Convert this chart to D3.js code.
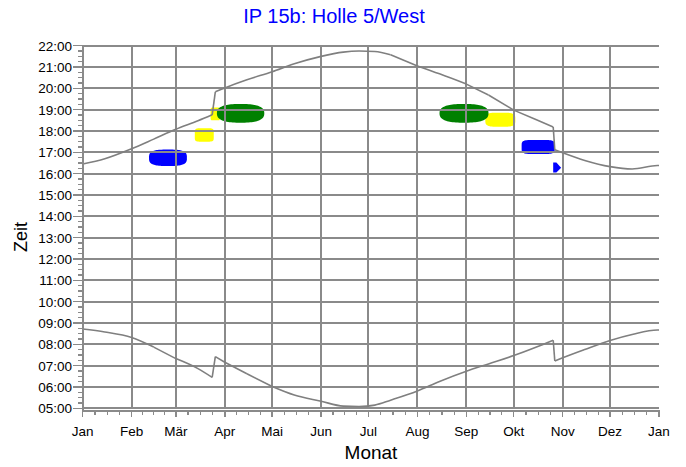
<!DOCTYPE html>
<html><head><meta charset="utf-8">
<script src="https://cdn.jsdelivr.net/npm/d3@7"></script>
<style>
body{margin:0;background:#fff}
svg{display:block}
text{font-family:"Liberation Sans",Arial,Helvetica,sans-serif}
</style>
</head><body>
<svg id="chart" width="686" height="467"></svg>
<script>
// ---------- data ----------
const chartTitle = "IP 15b: Holle 5/West";
const xTitle = "Monat";
const yTitle = "Zeit";
const monthLabels = ["Jan","Feb","Mär","Apr","Mai","Jun","Jul","Aug","Sep","Okt","Nov","Dez","Jan"];
const hourLabels = ["05:00","06:00","07:00","08:00","09:00","10:00","11:00","12:00","13:00","14:00",
                    "15:00","16:00","17:00","18:00","19:00","20:00","21:00","22:00"];
const hourValues = [5,6,7,8,9,10,11,12,13,14,15,16,17,18,19,20,21,22];

// sunset (upper curve), local time in hours
const sunsetDates = ["01-01","01-15","02-01","02-15","03-01","03-15","03-24","03-26","04-01","04-15",
                     "05-01","05-15","06-01","06-15","06-25","07-05","07-15","08-01","08-15","09-01",
                     "09-15","10-01","10-15","10-26","10-27","11-01","11-15","12-01","12-15","12-31"];
const sunsetTimes = [16.45,16.70,17.17,17.62,18.08,18.48,18.76,19.84,20.02,20.40,
                     20.78,21.15,21.50,21.70,21.75,21.73,21.58,21.05,20.68,20.20,
                     19.69,18.98,18.54,18.19,17.12,16.98,16.62,16.33,16.22,16.38];

// sunrise (lower curve)
const sunriseDates = ["01-01","01-15","02-01","02-15","03-01","03-15","03-24","03-26","04-01","04-15",
                      "05-01","05-15","06-01","06-15","06-25","07-05","07-15","08-01","08-15","09-01",
                      "09-15","10-01","10-15","10-26","10-27","11-01","11-15","12-01","12-15","12-31"];
const sunriseTimes = [8.72,8.58,8.32,7.87,7.33,6.86,6.45,7.42,7.16,6.62,
                      6.02,5.62,5.33,5.10,5.08,5.15,5.38,5.81,6.26,6.74,
                      7.08,7.47,7.86,8.19,7.22,7.37,7.76,8.18,8.46,8.67];

// coloured regions
const blobColors = ["#0000ff","#ffff00","#ffff00","#008000","#ffff00","#008000","#0000ff"];
const blobFrom   = ["02-12","03-13","03-23","03-27","09-13","08-15","10-06"];
const blobTo     = ["03-08","03-25","03-29","04-26","10-02","09-15","10-27"];
const blobLow    = [16.36,17.50,18.50,18.39,18.20,18.39,16.92];
const blobHigh   = [17.13,18.13,19.10,19.27,18.86,19.27,17.58];
const blobRound  = [3.2,6,8,2.6,4,2.6,5];
const arrowDates = ["10-26","10-28","10-31","10-28","10-26"];
const arrowTimes = [16.52,16.52,16.28,16.05,16.05];

// ---------- chart ----------
const M = {left: 82.7, right: 659, top: 45.7, bottom: 408.3};
const YEAR = 2023;
const toDate = md => { const [m,d] = md.split("-").map(Number); return new Date(YEAR, m-1, d); };

const x = d3.scaleTime().domain([new Date(YEAR,0,1), new Date(YEAR+1,0,1)]).range([M.left, M.right]);
const y = d3.scaleLinear().domain([5,22]).range([M.bottom, M.top]);

const svg = d3.select("#chart");
const gridColor = "#8a8a8a";

// blobs (under grid)
const gB = svg.append("g");
blobColors.forEach((c,i) => {
  const x0 = x(toDate(blobFrom[i])), x1 = x(toDate(blobTo[i]));
  const y0 = y(blobHigh[i]), y1 = y(blobLow[i]);
  const cx = (x0+x1)/2, cy = (y0+y1)/2, a = (x1-x0)/2, b = (y1-y0)/2, n = blobRound[i];
  const pts = d3.range(0, 361, 4).map(deg => {
    const t = deg*Math.PI/180, ct = Math.cos(t), st = Math.sin(t);
    return [cx + a*Math.sign(ct)*Math.pow(Math.abs(ct),2/n), cy + b*Math.sign(st)*Math.pow(Math.abs(st),2/n)];
  });
  gB.append("path").attr("d", d3.line()(pts)).attr("fill", c);
});
gB.append("path")
  .attr("d", d3.line()(arrowDates.map((d,i)=>[x(toDate(d)), y(arrowTimes[i])])) + "Z")
  .attr("fill", "#0000ff");

// grid
const gG = svg.append("g").attr("stroke", gridColor).attr("stroke-width", 2).attr("shape-rendering","crispEdges");
hourValues.forEach(h => {
  gG.append("line").attr("x1", M.left).attr("x2", M.right).attr("y1", y(h)).attr("y2", y(h));
});
const monthStarts = d3.timeMonth.range(new Date(YEAR,0,1), new Date(YEAR+1,0,2));
monthStarts.forEach((d,i) => {
  if (i > 0 && i < 12) gG.append("line").attr("x1", x(d)).attr("x2", x(d)).attr("y1", M.top).attr("y2", M.bottom);
});

// curves: smooth segments, straight jumps at clock changes
const smooth = d3.line().x(d => x(d[0])).y(d => y(d[1])).curve(d3.curveMonotoneX);
const straight = d3.line().x(d => x(d[0])).y(d => y(d[1]));
function drawCurve(dates, times) {
  const pts = dates.map((d,i)=>[toDate(d), times[i]]);
  pts.push([new Date(YEAR+1,0,1), times[times.length-1]]);
  const segs = [[pts[0]]];
  for (let i = 1; i < pts.length; i++) {
    if (Math.abs(pts[i][1]-pts[i-1][1]) > 0.5) {
      svg.append("path").attr("d", straight([pts[i-1], pts[i]])).attr("fill","none")
        .attr("stroke","#7f7f7f").attr("stroke-width",1.6);
      segs.push([pts[i]]);
    } else segs[segs.length-1].push(pts[i]);
  }
  segs.forEach(s => svg.append("path").attr("d", smooth(s)).attr("fill","none")
    .attr("stroke","#7f7f7f").attr("stroke-width",1.6));
}
drawCurve(sunsetDates, sunsetTimes);
drawCurve(sunriseDates, sunriseTimes);

// axes
const gA = svg.append("g").attr("stroke", gridColor).attr("shape-rendering","crispEdges");
gA.append("line").attr("x1", M.left).attr("x2", M.left).attr("y1", M.top).attr("y2", M.bottom+3).attr("stroke-width",2);
gA.append("line").attr("x1", M.left).attr("x2", M.right).attr("y1", M.bottom+2.5).attr("y2", M.bottom+2.5).attr("stroke-width",1.5);
// y ticks
hourValues.forEach(h => {
  gA.append("line").attr("x1", 73).attr("x2", M.left).attr("y1", y(h)).attr("y2", y(h)).attr("stroke-width",1.2);
  if (h < 22) [0.25,0.5,0.75].forEach(f => {
    gA.append("line").attr("x1", 77.5).attr("x2", 81.5).attr("y1", y(h+f)).attr("y2", y(h+f)).attr("stroke-width",1.2);
  });
});
// x ticks
monthStarts.forEach((d,i) => {
  const xd = x(d);
  gA.append("line").attr("x1", xd).attr("x2", xd).attr("y1", M.bottom+2).attr("y2", M.bottom+9).attr("stroke-width",1.5);
  if (i < 12) {
    const xn = x(monthStarts[i+1]);
    [0.25,0.5,0.75].forEach(f => {
      const xm = xd + (xn-xd)*f;
      gA.append("line").attr("x1", xm).attr("x2", xm).attr("y1", M.bottom+3).attr("y2", M.bottom+7).attr("stroke-width",1.2);
    });
  }
});

// labels
svg.append("g").selectAll("text").data(hourValues).join("text")
  .attr("x", 72).attr("y", d => y(d)).attr("dy","0.36em").attr("text-anchor","end")
  .attr("font-size", 13.5).attr("fill","#000").text((d,i)=>hourLabels[i]);
svg.append("g").selectAll("text").data(monthStarts).join("text")
  .attr("x", d => x(d)).attr("y", 436).attr("text-anchor","middle")
  .attr("font-size", 13.5).attr("fill","#000").text((d,i)=>monthLabels[i]);

svg.append("text").attr("x", 371).attr("y", 459).attr("text-anchor","middle")
  .attr("font-size", 19).attr("fill","#000").text(xTitle);
svg.append("text").attr("transform","translate(26.5,237) rotate(-90)").attr("text-anchor","middle")
  .attr("font-size", 18).attr("fill","#000").text(yTitle);
svg.append("text").attr("x", 334).attr("y", 23).attr("text-anchor","middle")
  .attr("font-size", 20).attr("fill","#0000ff").text(chartTitle);
</script>
</body></html>
